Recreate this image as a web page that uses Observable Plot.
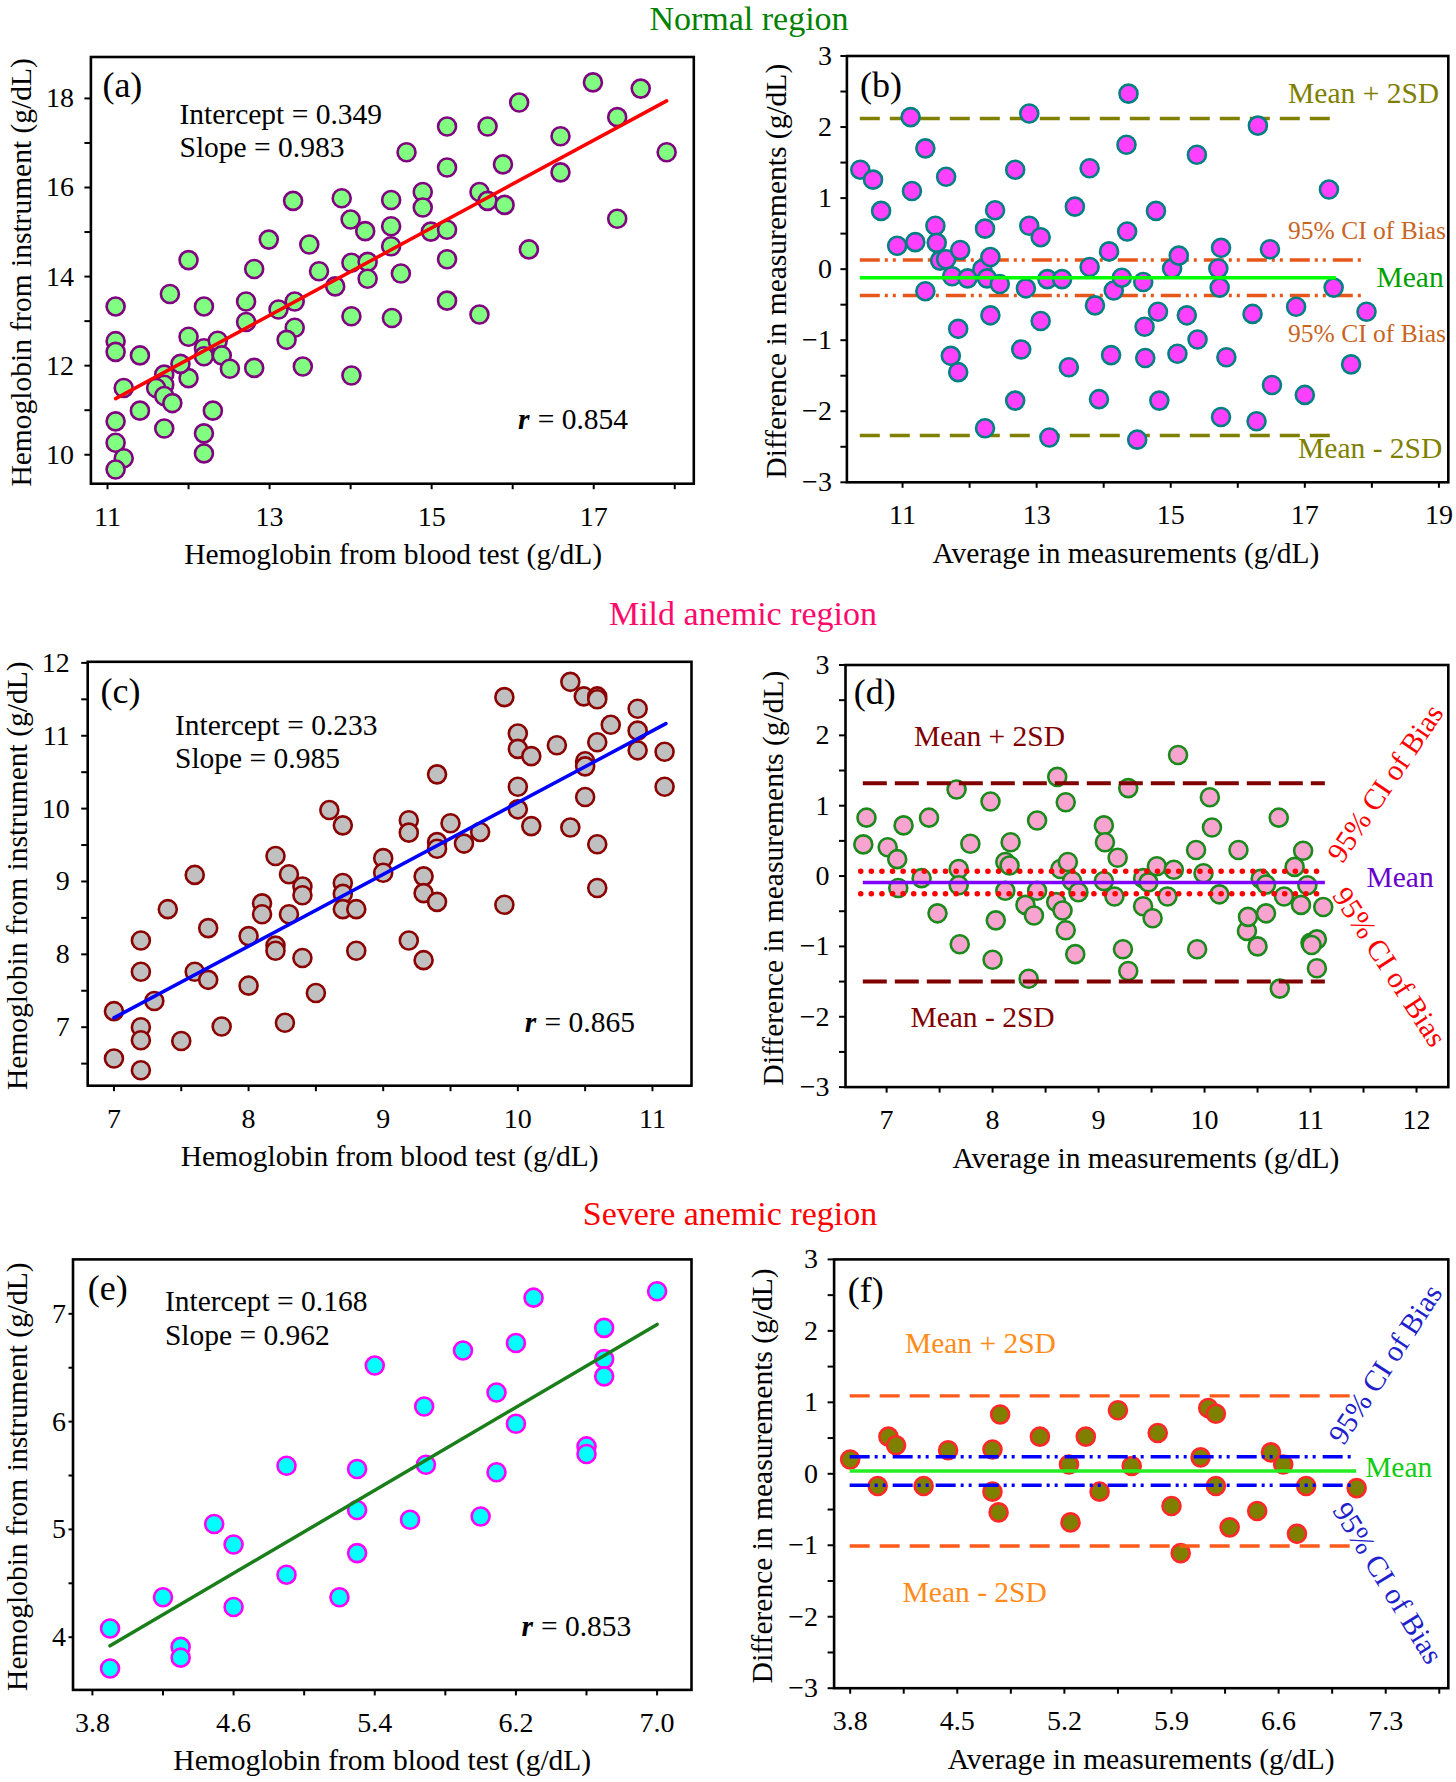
<!DOCTYPE html>
<html><head><meta charset="utf-8">
<script src="https://cdn.jsdelivr.net/npm/d3@7"></script>
<script src="https://cdn.jsdelivr.net/npm/@observablehq/plot@0.6"></script>
<style>
body{margin:0;background:#fff;}
#wrap{position:relative;width:1456px;height:1782px;background:#fff;overflow:hidden;font-family:"Liberation Serif","Times New Roman",Times,serif;}
.title{position:absolute;font-size:34px;line-height:normal;white-space:nowrap;transform:translateX(-50%);}
</style></head><body><div id="wrap"></div>
<script>
// ---------------- DATA ----------------
const titles = ["Normal region", "Mild anemic region", "Severe anemic region"];

// (a) Normal: blood test vs instrument
const aBlood = [11.10,11.10,11.10,11.20,11.10,11.10,11.20,11.10,11.40,11.40,11.77,12.00,12.00,12.00,11.70,11.70,11.60,11.70,11.80,11.90,11.70,12.19,12.19,12.19,12.36,12.41,12.51,12.30,12.19,12.19,12.71,12.71,12.81,12.81,13.11,13.31,13.31,13.21,13.41,13.61,13.81,14.01,14.21,14.21,14.01,14.01,14.51,14.62,12.99,13.49,13.29,13.89,14.00,14.18,14.50,14.50,14.50,14.69,14.89,14.89,14.99,15.19,15.19,15.19,15.19,15.19,15.59,15.69,15.69,15.88,15.90,15.59,16.08,16.20,16.59,16.59,16.99,17.29,17.29,17.58,17.90];
const aInstr = [13.33,12.55,12.31,11.50,10.75,10.27,9.92,9.67,12.23,10.99,13.61,14.37,12.65,11.72,11.80,11.57,11.50,11.32,11.16,12.04,10.59,13.33,12.39,12.21,12.56,12.23,11.93,10.99,10.48,10.03,13.44,12.98,14.17,11.95,13.26,13.44,12.85,12.58,11.98,14.12,13.78,14.31,14.33,13.95,13.11,11.78,13.07,14.07,14.83,14.72,15.70,15.76,15.28,15.02,15.72,15.13,14.68,16.79,15.90,15.55,15.01,17.37,16.45,15.05,14.39,13.46,15.90,15.70,17.37,16.52,15.61,13.15,17.91,14.61,17.15,16.34,18.36,17.58,15.30,18.22,16.79];
const aFit = {intercept: 0.349, slope: 0.983, xFrom: 11.1, xTo: 17.9};
const aStats = ["Intercept = 0.349", "Slope = 0.983", "= 0.854"];

// (b) Normal: Bland-Altman
const bAvg = [10.37,10.56,10.68,10.92,11.12,11.14,11.19,11.34,11.34,11.49,11.51,11.56,11.65,11.65,11.74,11.86,11.97,11.83,11.72,11.83,12.23,12.38,12.19,12.26,12.31,12.45,12.31,12.23,12.68,12.89,12.89,13.06,12.84,13.16,13.38,13.06,12.77,12.68,13.19,13.48,13.57,13.79,13.79,13.87,13.93,14.08,14.15,14.11,14.27,14.34,14.35,14.37,14.59,14.61,14.62,14.50,14.78,14.81,14.83,15.02,15.12,15.24,15.10,15.39,15.40,15.75,15.71,15.73,15.83,15.75,16.30,16.22,16.28,16.48,16.51,16.87,17.00,17.36,17.43,17.69,17.92];
const bDiff = [1.40,1.26,0.82,0.33,2.14,1.10,0.38,1.70,-0.31,0.61,0.37,0.12,1.30,0.14,-0.10,0.27,-0.13,-0.84,-1.22,-1.45,0.57,0.83,0.00,-0.13,0.17,-0.21,-0.65,-2.24,1.40,2.19,0.61,0.45,-0.27,-0.14,-0.14,-0.73,-1.13,-1.85,-2.37,-1.38,0.88,1.42,0.03,-0.51,-1.83,0.25,-0.30,-1.21,-0.12,1.75,0.53,2.47,-0.18,-0.81,-1.25,-2.40,0.82,-0.60,-1.85,0.01,0.19,-0.65,-1.19,1.61,-0.99,0.30,0.01,-0.26,-1.24,-2.08,2.02,-0.63,-2.14,0.28,-1.63,-0.53,-1.77,1.12,-0.26,-1.34,-0.60];
const bSD = [2.12, -2.34], bCI = [0.13, -0.37], bMean = [-0.12];
const bSpan = {sd: [10.37, 17.47], ci: [10.37, 17.91], mean: [10.37, 17.47]};

// (c) Mild anemic: blood test vs instrument
const cBlood = [7.00,7.00,7.20,7.20,7.20,7.20,7.20,7.30,7.40,7.50,7.60,7.60,7.70,7.70,7.80,8.00,8.00,8.10,8.10,8.20,8.20,8.20,8.30,8.30,8.27,8.40,8.40,8.40,8.50,8.60,8.70,8.70,8.70,8.70,8.80,8.80,9.00,9.00,9.19,9.19,9.19,9.30,9.30,9.30,9.40,9.40,9.40,9.40,9.50,9.60,9.72,9.90,9.90,10.00,10.00,10.00,10.00,10.10,10.10,10.29,10.39,10.39,10.49,10.50,10.50,10.50,10.59,10.59,10.59,10.59,10.59,10.69,10.89,10.89,10.89,11.09,11.09];
const cInstr = [7.22,6.57,8.19,7.76,7.00,6.82,6.41,7.36,8.62,6.81,9.09,7.76,8.36,7.65,7.01,8.25,7.57,8.70,8.55,9.35,8.12,8.05,9.10,8.55,7.06,8.93,8.81,7.95,7.47,9.98,9.77,8.98,8.83,8.62,8.62,8.05,9.32,9.12,9.84,9.67,8.19,9.07,8.84,7.92,10.47,9.54,9.45,8.72,9.80,9.52,9.68,11.53,8.68,11.03,10.82,10.30,9.99,10.72,9.76,10.87,11.74,9.74,11.54,10.65,10.58,10.16,11.54,11.50,10.91,9.51,8.91,11.15,11.37,11.07,10.80,10.78,10.30];
const cFit = {intercept: 0.233, slope: 0.985, xFrom: 7.0, xTo: 11.1};
const cStats = ["Intercept = 0.233", "Slope = 0.985", "= 0.865"];

// (d) Mild anemic: Bland-Altman
const dAvg = [6.81,6.78,7.01,7.10,7.11,7.16,7.33,7.40,7.48,7.66,7.68,7.68,7.69,7.79,7.98,8.03,8.00,8.12,8.16,8.17,8.12,8.31,8.39,8.42,8.42,8.34,8.61,8.69,8.64,8.71,8.60,8.66,8.75,8.81,8.69,8.78,9.05,9.06,9.05,9.15,9.18,9.28,9.23,9.28,9.42,9.42,9.47,9.51,9.55,9.65,9.71,9.75,9.92,9.99,9.93,10.05,10.07,10.14,10.32,10.40,10.41,10.50,10.53,10.58,10.58,10.70,10.75,10.71,10.85,10.93,10.97,10.91,11.00,11.06,11.01,11.06,11.12];
const dDiff = [0.83,0.45,0.41,0.24,-0.17,0.72,-0.03,0.83,-0.53,1.23,0.10,-0.13,-0.97,0.46,1.06,-0.63,-1.19,0.20,0.15,0.48,-0.21,-0.41,-0.56,0.79,-0.21,-1.46,1.41,1.05,0.10,0.20,-0.37,-0.49,-0.07,-0.23,-0.77,-1.11,0.72,0.48,-0.07,-0.29,0.26,1.25,-1.04,-1.35,-0.03,-0.43,-0.09,-0.60,0.14,-0.29,0.09,1.72,0.37,0.04,-1.04,1.12,0.69,-0.26,0.37,-0.78,-0.58,-1.00,-0.04,-0.12,-0.53,0.83,-0.29,-1.60,0.13,0.36,-0.13,-0.41,-0.95,-0.90,-0.98,-1.31,-0.44];
const dSD = [1.32, -1.50], dCI = [0.07, -0.25], dMean = [-0.09];
const dSpan = {sd: [6.78, 11.14], ci: [6.76, 11.09], mean: [6.78, 11.14]};

// (e) Severe anemic: blood test vs instrument
const eBlood = [3.90,3.90,4.20,4.30,4.30,4.49,4.60,4.60,4.90,4.90,5.20,5.30,5.30,5.30,5.40,5.60,5.68,5.69,5.90,6.00,6.09,6.09,6.20,6.20,6.30,6.60,6.60,6.70,6.70,6.70,7.00];
const eInstr = [4.08,3.71,4.37,3.91,3.81,5.05,4.86,4.28,5.59,4.58,4.37,5.56,5.18,4.78,6.52,5.09,6.14,5.60,6.66,5.12,6.27,5.53,6.73,5.98,7.15,5.77,5.70,6.87,6.58,6.42,7.21];
const eFit = {intercept: 0.168, slope: 0.962, xFrom: 3.9, xTo: 7.0};
const eStats = ["Intercept = 0.168", "Slope = 0.962", "= 0.853"];

// (f) Severe anemic: Bland-Altman
const fAvg = [3.80,3.98,4.05,4.10,4.28,4.44,4.73,4.73,4.78,4.77,5.04,5.23,5.24,5.34,5.43,5.55,5.64,5.81,5.90,5.96,6.09,6.14,6.19,6.19,6.28,6.46,6.55,6.63,6.72,6.78,7.11];
const fDiff = [0.20,-0.17,0.52,0.40,-0.17,0.33,0.34,-0.25,0.83,-0.54,0.52,0.13,-0.68,0.52,-0.25,0.89,0.11,0.57,-0.45,-1.11,0.23,0.92,0.84,-0.17,-0.75,-0.52,0.30,0.13,-0.84,-0.17,-0.20];
const fSD = [1.09, -1.01], fCI = [0.24, -0.16], fMean = [0.04];
const fSpan = {sd: [3.80, 7.07], ci: [3.80, 7.10], mean: [3.80, 7.11]};

// tick values
const aXMaj = [11,13,15,17], aXMin = [12,14,16,18], aYMaj = [10,12,14,16,18], aYMin = [11,13,15,17];
const bXMaj = [11,13,15,17,19], bXMin = [12,14,16,18];
const baYMaj = [-3,-2,-1,0,1,2,3], baYMin = [-2.5,-1.5,-0.5,0.5,1.5,2.5];
const cXMaj = [7,8,9,10,11], cXMin = [7.5,8.5,9.5,10.5], cYMaj = [7,8,9,10,11,12], cYMin = [6.5,7.5,8.5,9.5,10.5,11.5];
const dXMaj = [7,8,9,10,11,12], dXMin = [7.5,8.5,9.5,10.5,11.5];
const eXMaj = [3.8,4.6,5.4,6.2,7.0], eXMin = [4.2,5.0,5.8,6.6], eYMaj = [4,5,6,7], eYMin = [4.5,5.5,6.5];
const fXMaj = [3.8,4.5,5.2,5.9,6.6,7.3], fXMin = [4.15,4.85,5.55,6.25,6.95,7.65];

const labels = {
  blood: "Hemoglobin from blood test (g/dL)",
  instr: "Hemoglobin from instrument (g/dL)",
  avg: "Average in measurements (g/dL)",
  diff: "Difference in measurements (g/dL)",
  up: "Mean + 2SD", lo: "Mean - 2SD", mean: "Mean", ci: "95% CI of Bias"
};

// ---------------- HELPERS ----------------
const FONT = "'Liberation Serif','Times New Roman',Times,serif";
const TICK = 28;
const wrap = document.getElementById("wrap");
const pts = (xs, ys) => xs.map((x, i) => ({x, y: ys[i]}));
const fitLine = f => [f.xFrom, f.xTo].map(x => ({x, y: f.intercept + f.slope * x}));
const rules = (vals, span) => vals.map(v => ({v, x1: span[0], x2: span[1]}));

function axes(xMaj, xMin, yMaj, yMin, xFmt, yFmt, yPad, ySize) {
  const xs = new Set(xMaj), ys = new Set(yMaj);
  return [
    Plot.axisX(xMaj.concat(xMin), {tickSize: 6, tickPadding: 16, strokeWidth: 2, fontSize: TICK, label: null,
      tickFormat: d => xs.has(d) ? xFmt(d) : ""}),
    Plot.axisY(yMaj.concat(yMin), {tickSize: ySize ?? 6, tickPadding: yPad, strokeWidth: 2, fontSize: TICK, label: null,
      tickFormat: d => ys.has(d) ? yFmt(d) : ""})
  ];
}
function statText(stats, ix, iy, sy, rdx, edx, rdy) {
  return [
    Plot.text([stats[0]], {text: d => d, frameAnchor: "top-left", dx: ix, dy: iy, textAnchor: "start", fontSize: 29.5, lineAnchor: "middle"}),
    Plot.text([stats[1]], {text: d => d, frameAnchor: "top-left", dx: ix, dy: sy, textAnchor: "start", fontSize: 29.5, lineAnchor: "middle"}),
    Plot.text(["r"], {text: d => d, frameAnchor: "bottom-right", dx: rdx, dy: rdy, textAnchor: "end", fontSize: 29.5, fontStyle: "italic", fontWeight: "bold", lineAnchor: "middle"}),
    Plot.text([stats[2]], {text: d => d, frameAnchor: "bottom-right", dx: edx, dy: rdy, textAnchor: "start", fontSize: 29.5, lineAnchor: "middle"})
  ];
}
const note = (s, anchor, dx, dy, fill, size, extra = {}) =>
  Plot.text([s], {text: d => d, frameAnchor: anchor, dx, dy, fill, fontSize: size, lineAnchor: "middle",
    textAnchor: anchor.endsWith("right") ? "end" : "start", ...extra});

// lab = [xLabel, yLabel, xLabelDx, yLabelDx, tag, tagDx, tagDy]
function panel(box, m, xd, yd, marks, lab) {
  const fh = box[3] - m[0] - m[2];
  const labelMarks = [
    Plot.text([lab[0]], {text: d => d, frameAnchor: "bottom", dy: 71, dx: lab[2], fontSize: 29.5, lineAnchor: "middle"}),
    Plot.text([lab[1]], {text: d => d, frameAnchor: "top-left", dx: lab[3], dy: fh / 2 + 2, rotate: -90, textAnchor: "middle", fontSize: 29.5, lineAnchor: "middle"}),
    Plot.text([lab[4]], {text: d => d, frameAnchor: "top-left", dx: lab[5], dy: lab[6], textAnchor: "start", fontSize: 36, lineAnchor: "middle"})
  ];
  const svg = Plot.plot({
    width: box[2], height: box[3],
    marginTop: m[0], marginRight: m[1], marginBottom: m[2], marginLeft: m[3],
    x: {domain: xd, label: null}, y: {domain: yd, label: null},
    style: {fontFamily: FONT, fontSize: TICK + "px", color: "black", background: "transparent", overflow: "visible"},
    marks: [...marks, Plot.frame({stroke: "black", strokeWidth: 2.6}), ...labelMarks]
  });
  svg.style.position = "absolute";
  svg.style.left = box[0] + "px";
  svg.style.top = box[1] + "px";
  wrap.appendChild(svg);
}
const fInt = d3.format("d"), f1 = d3.format(".1f");
const DOT = {r: 9, strokeWidth: 2.6};
const DASHDOT = "20,5,3,5,3,7";

// ---------------- PANEL (a) ----------------
panel([0, 30, 728, 560], [26.5, 34.7, 106.8, 90.4], [10.795, 18.235], [9.35, 18.93], [
  Plot.dot(pts(aBlood, aInstr), {x: "x", y: "y", ...DOT, fill: "#80ff80", stroke: "#800080"}),
  Plot.line(fitLine(aFit), {x: "x", y: "y", stroke: "#ff0000", strokeWidth: 3.5}),
  ...statText(aStats, 88.6, 57.5, 90.9, -164.3, -156.1, -64.4),
  ...axes(aXMaj, aXMin, aYMaj, aYMin, fInt, fInt, 11)
], [labels.blood, labels.instr, 0.7, -69.7, "(a)", 11.5, 28.3]);

// ---------------- PANEL (b) ----------------
panel([728, 30, 728, 560], [25.5, 8.2, 108.2, 118.4], [10.17, 19.14], [-3, 3], [
  Plot.ruleY(rules(bSD, bSpan.sd), {y: "v", x1: "x1", x2: "x2", stroke: "#808000", strokeWidth: 3.5, strokeDasharray: "20,10"}),
  Plot.ruleY(rules(bCI, bSpan.ci), {y: "v", x1: "x1", x2: "x2", stroke: "#e8561a", strokeWidth: 3.5, strokeDasharray: DASHDOT}),
  Plot.dot(pts(bAvg, bDiff), {x: "x", y: "y", ...DOT, fill: "#ff40ff", stroke: "#008080"}),
  Plot.ruleY(rules(bMean, bSpan.mean), {y: "v", x1: "x1", x2: "x2", stroke: "#00ff00", strokeWidth: 3.5}),
  note(labels.up, "top-right", -9.2, 37.9, "#808000", 29.5),
  note(labels.ci, "top-right", -2.3, 174.9, "#c8641e", 25.5),
  note(labels.mean, "top-right", -4.6, 221.4, "#00a000", 29.5),
  note(labels.ci, "top-right", -2.3, 277.9, "#c8641e", 25.5),
  note(labels.lo, "top-right", -6, 392.5, "#808000", 29.5),
  ...axes(bXMaj, bXMin, baYMaj, baYMin, fInt, fInt, 9)
], [labels.avg, labels.diff, -21.7, -69.9, "(b)", 13.2, 29.3]);

// ---------------- PANEL (c) ----------------
panel([0, 632, 728, 563], [29.3, 37, 109.8, 87.2], [6.805, 11.29], [6.197, 12.015], [
  Plot.dot(pts(cBlood, cInstr), {x: "x", y: "y", ...DOT, fill: "#c0c0c0", stroke: "#8b0000"}),
  Plot.line(fitLine(cFit), {x: "x", y: "y", stroke: "#0000ff", strokeWidth: 3.5}),
  ...statText(cStats, 87.3, 63.7, 96.5, -155.2, -147, -63),
  ...axes(cXMaj, cXMin, cYMaj, cYMin, fInt, fInt, 12)
], [labels.blood, labels.instr, 0, -70, "(c)", 12.9, 29.7]);

// ---------------- PANEL (d) ----------------
panel([728, 632, 728, 563], [32.5, 8.2, 108.4, 117], [6.612, 12.30], [-3, 3], [
  Plot.dot(pts(dAvg, dDiff), {x: "x", y: "y", ...DOT, fill: "#f9a3d1", stroke: "#1a8a1a"}),
  Plot.ruleY(rules(dSD, dSpan.sd), {y: "v", x1: "x1", x2: "x2", stroke: "#800000", strokeWidth: 4, strokeDasharray: "24,8"}),
  Plot.ruleY(rules(dCI, dSpan.ci), {y: "v", x1: "x1", x2: "x2", stroke: "#ff0000", strokeWidth: 5.5, strokeDasharray: "0.1,10.5", strokeLinecap: "round"}),
  Plot.ruleY(rules(dMean, dSpan.mean), {y: "v", x1: "x1", x2: "x2", stroke: "#8000ff", strokeWidth: 3.5}),
  note(labels.up, "top-left", 68.5, 71.2, "#800000", 29.5),
  note(labels.lo, "top-left", 64.9, 352.5, "#800000", 29.5),
  note(labels.mean, "top-right", -14.6, 212.4, "#6600cc", 29.5),
  note(labels.ci, "top-right", -62.8, 118.5, "#ff0000", 29.5, {rotate: -56, textAnchor: "middle"}),
  note(labels.ci, "top-right", -59, 302, "#ff0000", 29.5, {rotate: 57, textAnchor: "middle"}),
  ...axes(dXMaj, dXMin, baYMaj, baYMin, fInt, fInt, 10)
], [labels.avg, labels.diff, -1, -72, "(d)", 8.2, 27.2]);

// ---------------- PANEL (e) ----------------
panel([0, 1232, 728, 550], [26.9, 37, 92.6, 72.5], [3.69, 7.195], [3.511, 7.505], [
  Plot.dot(pts(eBlood, eInstr), {x: "x", y: "y", ...DOT, fill: "#00ffff", stroke: "#ff00ff"}),
  Plot.line(fitLine(eFit), {x: "x", y: "y", stroke: "#1a7f1a", strokeWidth: 3.5}),
  ...statText(eStats, 91.9, 42.1, 75.8, -158.4, -150.6, -63.7),
  ...axes(eXMaj, eXMin, eYMaj, eYMin, f1, fInt, 3, 4)
], [labels.blood, labels.instr, 0, -55.3, "(e)", 14.7, 29.3]);

// ---------------- PANEL (f) ----------------
panel([728, 1232, 728, 550], [26.9, 8.2, 94.3, 105.6], [3.695, 7.709], [-3, 3], [
  Plot.dot(pts(fAvg, fDiff), {x: "x", y: "y", ...DOT, fill: "#808000", stroke: "#ff2828"}),
  Plot.ruleY(rules(fSD, fSpan.sd), {y: "v", x1: "x1", x2: "x2", stroke: "#ff5a1a", strokeWidth: 3.3, strokeDasharray: "20,10"}),
  Plot.ruleY(rules(fCI, fSpan.ci), {y: "v", x1: "x1", x2: "x2", stroke: "#0000ff", strokeWidth: 3.5, strokeDasharray: DASHDOT}),
  Plot.ruleY(rules(fMean, fSpan.mean), {y: "v", x1: "x1", x2: "x2", stroke: "#22ee22", strokeWidth: 3.5}),
  note(labels.up, "top-left", 70.8, 83.7, "#ff8c1a", 29.5),
  note(labels.lo, "top-left", 68.5, 333, "#ff8c1a", 29.5),
  note(labels.mean, "top-right", -16, 208.4, "#11cc11", 29.5),
  note(labels.ci, "top-right", -62.8, 105, "#2020cc", 29.5, {rotate: -57, textAnchor: "middle"}),
  note(labels.ci, "top-right", -60.8, 323.7, "#2020cc", 29.5, {rotate: 58.5, textAnchor: "middle"}),
  ...axes(fXMaj, fXMin, baYMaj, baYMin, f1, fInt, 10)
], [labels.avg, labels.diff, 0, -72, "(f)", 13.7, 31]);

// ---------------- TITLES ----------------
const titleSpec = [[749, 0, "#008000"], [743, 595, "#ff0a6c"], [730, 1195, "#ff0000"]];
titles.forEach((t, i) => {
  const d = document.createElement("div");
  d.className = "title";
  d.textContent = t;
  d.style.left = titleSpec[i][0] + "px";
  d.style.top = titleSpec[i][1] + "px";
  d.style.color = titleSpec[i][2];
  wrap.appendChild(d);
});
</script></body></html>
